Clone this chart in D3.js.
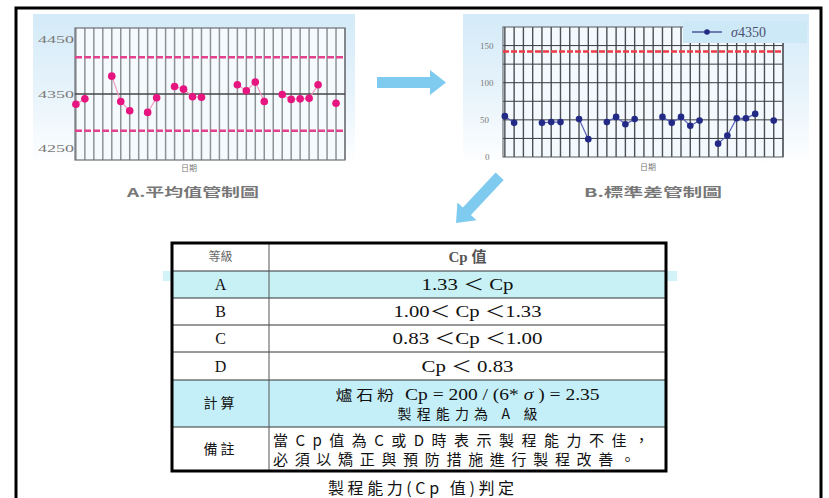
<!DOCTYPE html>
<html>
<head>
<meta charset="utf-8">
<script src="https://cdn.jsdelivr.net/npm/d3@7"></script>
<style>
  body { margin: 0; background: #fff; }
  svg { display: block; }
</style>
</head>
<body>
<div id="chart"></div>
<script>
// ---- data ----
// A. mean control chart (day number -> value)
const meanDays = [1, 2, 5, 6, 7, 9, 10, 12, 13, 14, 15, 19, 20, 21, 22, 24, 25, 26, 27, 28, 30];
const meanValues = [4331, 4341, 4383, 4336, 4319, 4316, 4343, 4364, 4359, 4345, 4344, 4367, 4356, 4372, 4336, 4349, 4340, 4341, 4342, 4367, 4333];
const meanTicks = [4450, 4350, 4250];
const meanCenter = 4350;
const meanLimits = [4418, 4282];

// B. standard deviation control chart
const sdDays = [1, 2, 5, 6, 7, 9, 10, 12, 13, 14, 15, 18, 19, 20, 21, 22, 24, 25, 26, 27, 28, 30];
const sdValues = [55, 46, 46, 47, 47, 51, 24, 47, 54, 44, 51, 54, 46, 54, 42, 49, 18, 29, 52, 52, 58, 49];
const sdTicks = [150, 100, 50, 0];
const sdGrid = [25, 50, 75, 100, 125, 150];
const sdLimit = 142;

const gridDays = [1, 2, 3, 4, 5, 6, 7, 8, 9, 10, 11, 12, 13, 14, 15, 16, 17, 18, 19, 20, 21, 22, 23, 24, 25, 26, 27, 28, 29, 30, 31];

// table
const gradeHeader = ["等級", "Cp 值"];
const grades = ["A", "B", "C", "D"];
const cpRanges = ["1.33 ＜ Cp", "1.00＜ Cp ＜1.33", "0.83 ＜Cp ＜1.00", "Cp ＜ 0.83"];
const cpWidths = [92, 148, 150, 92];
const calcLines = ["製程能力為 A 級"];
const noteLines = ["當Cp值為C或D時表示製程能力不佳，", "必須以矯正與預防措施進行製程改善。"];
const noteWidths = [376, 362];

const serif = "'Liberation Serif', 'Noto Sans CJK TC', serif";
const cjk = "'Noto Sans CJK TC', 'Liberation Serif', serif";

const svg = d3.select("#chart").append("svg")
  .attr("width", 829).attr("height", 498);

const defs = svg.append("defs");
const grad = defs.append("linearGradient").attr("id", "panelGrad")
  .attr("x1", 0).attr("y1", 0).attr("x2", 0).attr("y2", 1);
grad.append("stop").attr("offset", "0%").attr("stop-color", "#d3eaf8");
grad.append("stop").attr("offset", "55%").attr("stop-color", "#e9f4fb");
grad.append("stop").attr("offset", "100%").attr("stop-color", "#ffffff");

// outer frame
svg.append("rect")
  .attr("x", 16).attr("y", 8).attr("width", 805).attr("height", 500)
  .attr("fill", "none").attr("stroke", "#000").attr("stroke-width", 3);

// series with gaps so that only neighbouring days are joined
function withGaps(days, values) {
  return gridDays.slice(0, 30).map((d) => {
    let i = days.indexOf(d);
    return { day: d, value: i < 0 ? null : values[i] };
  });
}

// ---------- A. mean chart ----------
function drawMean() {
  let g = svg.append("g");
  g.append("rect").attr("x", 33).attr("y", 14).attr("width", 322).attr("height", 152)
    .attr("fill", "url(#panelGrad)");

  let x = d3.scaleLinear().domain([0.9, 31]).range([75, 345]);
  let y = d3.scaleLinear().domain([4228, 4472]).range([160, 28]);

  g.append("rect").attr("x", 75).attr("y", 28).attr("width", 270).attr("height", 132)
    .attr("fill", "#f5fafd");

  g.selectAll(".vgrid").data(gridDays).enter().append("line")
    .attr("x1", (d) => x(d)).attr("x2", (d) => x(d))
    .attr("y1", 28).attr("y2", 160)
    .attr("stroke", "#8e9196").attr("stroke-width", 1.5);

  g.append("rect").attr("x", 75).attr("y", 28).attr("width", 270).attr("height", 132)
    .attr("fill", "none").attr("stroke", "#6d7075").attr("stroke-width", 1.2);

  // center line
  g.append("line").attr("x1", 75).attr("x2", 345)
    .attr("y1", y(meanCenter)).attr("y2", y(meanCenter))
    .attr("stroke", "#444").attr("stroke-width", 1.3);

  // control limits
  g.selectAll(".limit").data(meanLimits).enter().append("line")
    .attr("x1", 75).attr("x2", 345)
    .attr("y1", (d) => y(d)).attr("y2", (d) => y(d))
    .attr("stroke", "#e2428d").attr("stroke-width", 2.6)
    .attr("stroke-dasharray", "7,2");

  // tick labels
  g.selectAll(".ylab").data(meanTicks).enter().append("text")
    .attr("x", 38).attr("y", (d) => y(d) + 3.5)
    .attr("textLength", 36).attr("lengthAdjust", "spacingAndGlyphs")
    .attr("font-family", serif).attr("font-size", 10).attr("fill", "#7a7a7a")
    .text((d) => d);

  let series = withGaps(meanDays, meanValues);
  let line = d3.line().defined((d) => d.value !== null)
    .x((d) => x(d.day)).y((d) => y(d.value));
  g.append("path").datum(series).attr("d", line)
    .attr("fill", "none").attr("stroke", "#f19ac2").attr("stroke-width", 1.2);
  g.selectAll(".pt").data(series.filter((d) => d.value !== null)).enter().append("circle")
    .attr("cx", (d) => x(d.day)).attr("cy", (d) => y(d.value)).attr("r", 3.8)
    .attr("fill", "#e6157f");

  g.append("text").attr("x", 189).attr("y", 171).attr("text-anchor", "middle")
    .attr("font-family", cjk).attr("font-size", 8).attr("fill", "#777").text("日期");
  g.append("text").attr("x", 193).attr("y", 197).attr("text-anchor", "middle")
    .attr("textLength", 132).attr("lengthAdjust", "spacingAndGlyphs")
    .attr("font-family", cjk).attr("font-size", 12).attr("font-weight", "bold")
    .attr("fill", "#777").text("A.平均值管制圖");
}

// ---------- B. standard deviation chart ----------
function drawSd() {
  let g = svg.append("g");
  g.append("rect").attr("x", 463).attr("y", 14).attr("width", 346).attr("height", 152)
    .attr("fill", "url(#panelGrad)");

  let x = d3.scaleLinear().domain([0.8, 31]).range([503, 783]);
  let y = d3.scaleLinear().domain([0, 175]).range([157, 27]);

  g.append("rect").attr("x", 503).attr("y", 27).attr("width", 280).attr("height", 130)
    .attr("fill", "#f3f9fd");

  g.selectAll(".vgrid").data(gridDays).enter().append("line")
    .attr("x1", (d) => x(d)).attr("x2", (d) => x(d))
    .attr("y1", 27).attr("y2", 157)
    .attr("stroke", "#4c4f55").attr("stroke-width", 1.4);

  g.selectAll(".hgrid").data(sdGrid).enter().append("line")
    .attr("x1", 503).attr("x2", 783)
    .attr("y1", (d) => y(d)).attr("y2", (d) => y(d))
    .attr("stroke", "#3a3c40").attr("stroke-width", 1);

  g.append("rect").attr("x", 503).attr("y", 27).attr("width", 280).attr("height", 130)
    .attr("fill", "none").attr("stroke", "#55585e").attr("stroke-width", 1);

  // upper limit
  g.append("line").attr("x1", 503).attr("x2", 783)
    .attr("y1", y(sdLimit)).attr("y2", y(sdLimit))
    .attr("stroke", "#ec3a46").attr("stroke-width", 2.5)
    .attr("stroke-dasharray", "6,2");

  g.selectAll(".ylab").data(sdTicks).enter().append("text")
    .attr("x", (d) => 480 + (d === 0 ? 5 : 0)).attr("y", (d) => y(d) + 3)
    .attr("font-family", serif).attr("font-size", 9).attr("fill", "#7a7a7a")
    .text((d) => d);

  let series = withGaps(sdDays, sdValues);
  let line = d3.line().defined((d) => d.value !== null)
    .x((d) => x(d.day)).y((d) => y(d.value));
  g.append("path").datum(series).attr("d", line)
    .attr("fill", "none").attr("stroke", "#5860b8").attr("stroke-width", 1.2);
  g.selectAll(".pt").data(series.filter((d) => d.value !== null)).enter().append("circle")
    .attr("cx", (d) => x(d.day)).attr("cy", (d) => y(d.value)).attr("r", 3.3)
    .attr("fill", "#232a86");

  // legend
  g.append("rect").attr("x", 683).attr("y", 21).attr("width", 124).attr("height", 22)
    .attr("fill", "#cde8f7");
  g.append("line").attr("x1", 692).attr("x2", 722).attr("y1", 32).attr("y2", 32)
    .attr("stroke", "#3a4390").attr("stroke-width", 1.3);
  g.append("circle").attr("cx", 707).attr("cy", 32).attr("r", 2.8).attr("fill", "#232a86");
  let lt = g.append("text").attr("x", 731).attr("y", 37)
    .attr("font-family", serif).attr("font-size", 14).attr("fill", "#4a5270");
  lt.append("tspan").attr("font-style", "italic").text("σ");
  lt.append("tspan").text("4350");

  g.append("text").attr("x", 648).attr("y", 170).attr("text-anchor", "middle")
    .attr("font-family", cjk).attr("font-size", 8).attr("fill", "#777").text("日期");
  g.append("text").attr("x", 653).attr("y", 197).attr("text-anchor", "middle")
    .attr("textLength", 138).attr("lengthAdjust", "spacingAndGlyphs")
    .attr("font-family", cjk).attr("font-size", 12).attr("font-weight", "bold")
    .attr("fill", "#777").text("B.標準差管制圖");
}

// ---------- arrows ----------
function drawArrows() {
  svg.append("path")
    .attr("d", "M377,77 L430,77 L430,70 L446,82.5 L430,95 L430,88 L377,88 Z")
    .attr("fill", "#7fcbef");
  // diagonal arrow, pointing down-left
  svg.append("g").attr("transform", "translate(456,223) rotate(-47)")
    .append("path")
    .attr("d", "M0,0 L16,-13 L16,-5.5 L64,-5.5 L64,5.5 L16,5.5 L16,13 Z")
    .attr("fill", "#7fcbef");
}

// ---------- table ----------
function drawTable() {
  let g = svg.append("g");
  let x0 = 172, xDiv = 269, x1 = 666;
  let rowY = [243, 271, 298, 325, 352, 380, 427, 471];
  let cx1 = (x0 + xDiv) / 2, cx2 = (xDiv + x1) / 2;

  // highlighted rows
  g.append("rect").attr("x", 163).attr("y", rowY[1]).attr("width", 514).attr("height", 10)
    .attr("fill", "#d2f3f7");
  g.append("rect").attr("x", x0).attr("y", rowY[1]).attr("width", x1 - x0).attr("height", rowY[2] - rowY[1])
    .attr("fill", "#c8f1f6");
  g.append("rect").attr("x", x0).attr("y", rowY[5]).attr("width", x1 - x0).attr("height", rowY[6] - rowY[5])
    .attr("fill", "#c5eff8");

  // row lines
  g.selectAll(".row").data(rowY.slice(1, -1)).enter().append("line")
    .attr("x1", x0).attr("x2", x1).attr("y1", (d) => d).attr("y2", (d) => d)
    .attr("stroke", "#333").attr("stroke-width", 1);
  g.append("line").attr("x1", xDiv).attr("x2", xDiv).attr("y1", rowY[0]).attr("y2", rowY[7])
    .attr("stroke", "#555").attr("stroke-width", 1);
  g.append("rect").attr("x", x0).attr("y", rowY[0]).attr("width", x1 - x0).attr("height", rowY[7] - rowY[0])
    .attr("fill", "none").attr("stroke", "#000").attr("stroke-width", 3);

  // header
  g.append("text").attr("x", cx1).attr("y", 261).attr("text-anchor", "middle")
    .attr("font-family", cjk).attr("font-size", 12).attr("fill", "#666").text(gradeHeader[0]);
  g.append("text").attr("x", cx2).attr("y", 262).attr("text-anchor", "middle")
    .attr("font-family", serif).attr("font-size", 15).attr("font-weight", "bold")
    .attr("fill", "#555").text(gradeHeader[1]);

  // grade rows
  g.selectAll(".grade").data(grades).enter().append("text")
    .attr("x", cx1).attr("y", (d, i) => (rowY[i + 1] + rowY[i + 2]) / 2 + 5.5)
    .attr("text-anchor", "middle").attr("font-family", serif).attr("font-size", 16)
    .attr("fill", "#111").text((d) => d);
  g.selectAll(".range").data(cpRanges).enter().append("text")
    .attr("x", cx2).attr("y", (d, i) => (rowY[i + 1] + rowY[i + 2]) / 2 + 5.5)
    .attr("text-anchor", "middle").attr("font-family", serif).attr("font-size", 16)
    .attr("textLength", (d, i) => cpWidths[i]).attr("lengthAdjust", "spacingAndGlyphs")
    .attr("fill", "#111").text((d) => d);

  // calculation row
  g.append("text").attr("x", cx1).attr("y", 408).attr("text-anchor", "middle")
    .attr("font-family", cjk).attr("font-size", 14).attr("letter-spacing", 3)
    .attr("fill", "#111").text("計算");
  let t = g.append("text").attr("x", cx2).attr("y", 400).attr("text-anchor", "middle")
    .attr("textLength", 264).attr("lengthAdjust", "spacingAndGlyphs")
    .attr("font-family", serif).attr("font-size", 16).attr("fill", "#111");
  t.append("tspan").attr("font-family", cjk).attr("font-size", 14).attr("letter-spacing", 3).text("爐石粉 ");
  t.append("tspan").text("Cp = 200 / (6* ");
  t.append("tspan").attr("font-style", "italic").text("σ");
  t.append("tspan").text(" ) = 2.35");
  g.append("text").attr("x", cx2).attr("y", 419).attr("text-anchor", "middle")
    .attr("textLength", 140).attr("lengthAdjust", "spacing")
    .attr("font-family", cjk).attr("font-size", 14).attr("fill", "#111").text(calcLines[0]);

  // note row
  g.append("text").attr("x", cx1).attr("y", 454).attr("text-anchor", "middle")
    .attr("font-family", cjk).attr("font-size", 14).attr("letter-spacing", 3)
    .attr("fill", "#111").text("備註");
  let note = g.append("text").attr("font-family", cjk).attr("font-size", 15).attr("fill", "#111");
  note.selectAll("tspan").data(noteLines).enter().append("tspan")
    .attr("x", 273).attr("y", (d, i) => 446 + i * 19)
    .attr("textLength", (d, i) => noteWidths[i]).attr("lengthAdjust", "spacing")
    .text((d) => d);

  // caption
  g.append("text").attr("x", 421).attr("y", 494).attr("text-anchor", "middle")
    .attr("textLength", 186).attr("lengthAdjust", "spacing")
    .attr("font-family", cjk).attr("font-size", 16).attr("fill", "#111").text("製程能力(Cp 值)判定");
}

drawMean();
drawSd();
drawArrows();
drawTable();
</script>
</body>
</html>
